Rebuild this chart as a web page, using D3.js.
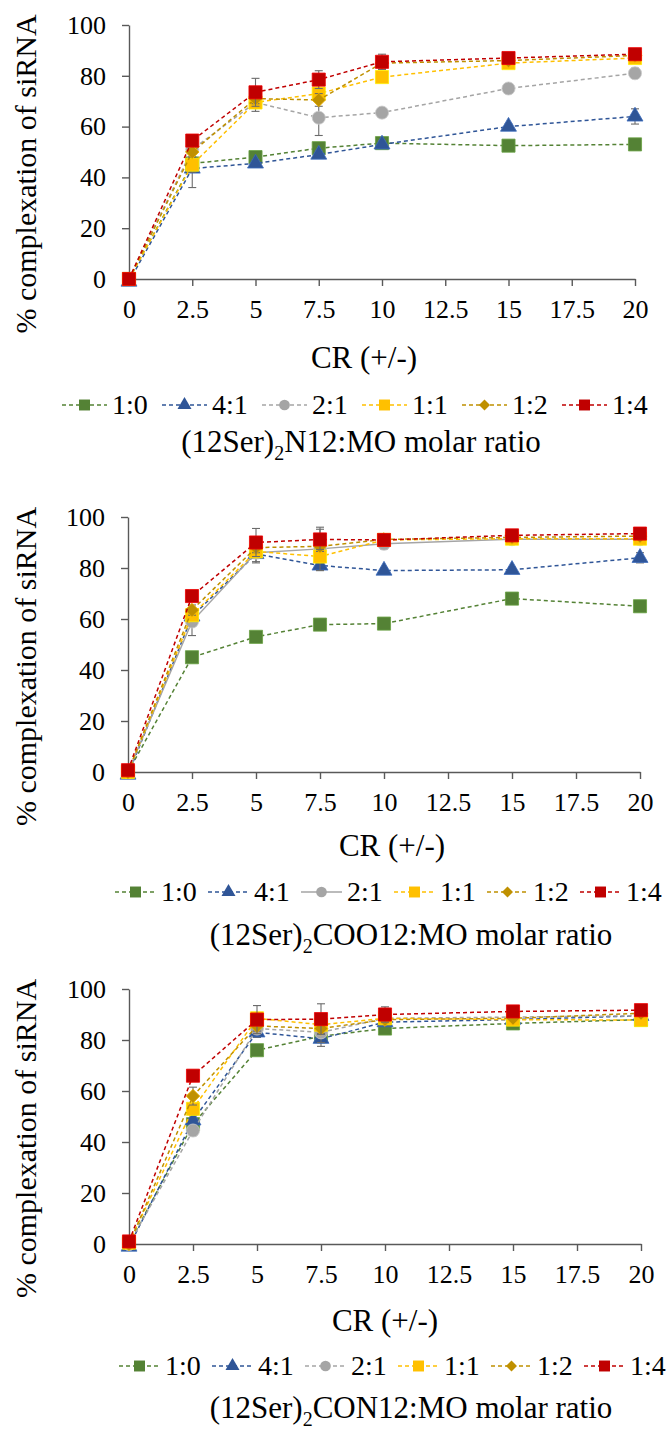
<!DOCTYPE html>
<html>
<head>
<meta charset="utf-8">
<script src="https://cdn.jsdelivr.net/npm/d3@7"></script>
<style>
  body { margin: 0; background: #fff; }
  svg { display: block; }
</style>
</head>
<body>
<svg id="canvas" width="668" height="1429"></svg>
<script>
/************* Data **************/
var crValues = [0, 2.5, 5, 7.5, 10, 15, 20];
var xTickValues = [0, 2.5, 5, 7.5, 10, 12.5, 15, 17.5, 20];
var yTickValues = [0, 20, 40, 60, 80, 100];
var ratioNames = ["1:0", "4:1", "2:1", "1:1", "1:2", "1:4"];
var ratioColors = ["#548235", "#2F5597", "#A5A5A5", "#FFC000", "#BF9000", "#C00000"];
var ratioShapes = ["square", "triangle", "circle", "square", "diamond", "square"];

// (12Ser)2N12 : one row per molar ratio, same order as ratioNames
var n12Mean = [
  [0, 45.5, 48, 51.5, 53.5, 52.5, 53],
  [-1, 43.5, 45.5, 49, 53, 60, 64],
  [0, 51, 69.5, 63.5, 65.5, 75, 81],
  [0, 45, 69.5, 73, 79.5, 85, 87],
  [0, 50, 71, 70.5, 85, 86, 88],
  [0, 54.5, 73.5, 78.5, 85.5, 87, 88.5]
];
var n12Err = [
  [0, 1.5, 1, 1, 1, 1, 1],
  [0, 7.5, 1.5, 1.5, 1.5, 1, 3],
  [0, 2, 3.5, 7, 1.5, 1.5, 2],
  [0, 3, 2, 2, 2, 1, 1],
  [0, 2, 2, 2.5, 2, 1, 1],
  [0, 2, 5.5, 3.5, 3, 1, 1]
];

// (12Ser)2COO12
var coo12Mean = [
  [0, 45, 53, 57.8, 58.2, 68, 65],
  [-1, 61, 85.5, 81, 79, 79.3, 84],
  [0, 59, 86, 87.5, 89.5, 91.3, 91.3],
  [0, 61.5, 86.5, 84.5, 91, 91.5, 91.5],
  [0, 63.5, 88, 88.5, 91.2, 92, 92.5],
  [0.7, 69, 90, 91.2, 91, 92.8, 93.5]
];
var coo12Err = [
  [0, 1, 1, 1, 1, 1, 1],
  [0, 2, 3, 2, 1, 1, 2],
  [0, 5.5, 4, 8.5, 2, 1, 2],
  [0, 2, 2, 2, 2, 1, 1],
  [0, 2, 2, 2, 2, 1, 1],
  [0, 2, 5.5, 4, 2, 1, 1]
];

// (12Ser)2CON12
var con12Mean = [
  [0, 47, 76, 81.5, 84.5, 86.5, 88],
  [-1, 48.5, 83, 80.5, 87, 88, 89.5],
  [0, 44.5, 84.5, 83, 88.5, 89, 89.5],
  [0.5, 53, 88.5, 86, 88.5, 88, 87.8],
  [0, 58, 85.5, 84.5, 88, 88.5, 90.5],
  [1, 66, 88, 88.2, 90, 91.2, 91.7]
];
var con12Err = [
  [0, 1, 1, 1, 1, 1, 1],
  [0, 2, 2, 3, 1, 1, 1],
  [0, 2, 2, 4, 1, 1, 1],
  [0, 2, 2, 2, 1, 1, 1],
  [0, 3.5, 2, 2, 1, 1, 1],
  [0, 2, 5.5, 6, 3, 1, 1]
];

/*********** Layout **************/
var panels = [
  { mean: n12Mean, err: n12Err, head: "N12", solid: [],
    top: 25, bottom: 279, left: 129, right: 635,
    crX: 364, crY: 357, legX: 62, legStep: 100, symW: 45, legY: 405, capX: 361, capY: 442 },
  { mean: coo12Mean, err: coo12Err, head: "COO12", solid: [2],
    top: 517, bottom: 772, left: 128, right: 640,
    crX: 392, crY: 845, legX: 115, legStep: 93, symW: 41, legY: 892, capX: 411, capY: 935 },
  { mean: con12Mean, err: con12Err, head: "CON12", solid: [],
    top: 989, bottom: 1244, left: 129, right: 641,
    crX: 385, crY: 1320, legX: 119, legStep: 93, symW: 41, legY: 1366, capX: 411, capY: 1408 }
];

var svg = d3.select("#canvas");
var axisColor = "#595959";
var serif = "'Liberation Serif', 'Times New Roman', Times, serif";

function symbolPath(shape, size) {
  var type = { square: d3.symbolSquare, triangle: d3.symbolTriangle,
               circle: d3.symbolCircle, diamond: d3.symbolSquare }[shape];
  return d3.symbol().type(type).size(size)();
}
var markerSize = { square: 172, triangle: 110, circle: 135, diamond: 92 };
var legendSize = { square: 120, triangle: 85, circle: 90, diamond: 60 };

function markerTransform(shape, px, py) {
  var t = "translate(" + px + "," + py + ")";
  if (shape === "diamond") t += " rotate(45)";
  return t;
}

function drawPanel(p) {
  var g = svg.append("g");

  var x = d3.scaleLinear().domain([0, 20]).range([p.left, p.right]);
  var y = d3.scaleLinear().domain([0, 100]).range([p.bottom, p.top]);

  // axes
  var xAxis = g.append("g")
      .attr("transform", "translate(0," + p.bottom + ")")
      .call(d3.axisBottom(x).tickValues(xTickValues).tickFormat(d3.format("")).tickSize(7).tickSizeOuter(0).tickPadding(14));
  var yAxis = g.append("g")
      .attr("transform", "translate(" + p.left + ",0)")
      .call(d3.axisLeft(y).tickValues(yTickValues).tickSize(7).tickSizeOuter(0).tickPadding(16));
  [xAxis, yAxis].forEach(function(a) {
    a.attr("font-family", null).attr("font-size", null);
    a.selectAll("path, line").attr("stroke", axisColor).attr("stroke-width", 1.4);
    a.selectAll("text").style("font-family", serif).style("font-size", "26px").attr("fill", "#000");
  });

  // series
  p.mean.forEach(function(values, i) {
    var pts = values.map(function(v, j) { return { cr: crValues[j], v: v, e: p.err[i][j] }; });
    var color = ratioColors[i];
    var line = d3.line().x(function(d) { return x(d.cr); }).y(function(d) { return y(d.v); });

    g.append("path")
        .datum(pts)
        .attr("d", line)
        .attr("fill", "none")
        .attr("stroke", color)
        .attr("stroke-width", 1.5)
        .attr("stroke-dasharray", p.solid.indexOf(i) >= 0 ? null : "4,3");

    var eb = g.append("g").selectAll("g")
        .data(pts.filter(function(d) { return d.e > 0; }))
        .enter().append("g")
        .attr("stroke", "#6b6b6b")
        .attr("stroke-width", 1.1);
    eb.append("line")
        .attr("x1", function(d) { return x(d.cr); }).attr("x2", function(d) { return x(d.cr); })
        .attr("y1", function(d) { return y(d.v + d.e); }).attr("y2", function(d) { return y(d.v - d.e); });
    eb.append("line")
        .attr("x1", function(d) { return x(d.cr) - 4; }).attr("x2", function(d) { return x(d.cr) + 4; })
        .attr("y1", function(d) { return y(d.v + d.e); }).attr("y2", function(d) { return y(d.v + d.e); });
    eb.append("line")
        .attr("x1", function(d) { return x(d.cr) - 4; }).attr("x2", function(d) { return x(d.cr) + 4; })
        .attr("y1", function(d) { return y(d.v - d.e); }).attr("y2", function(d) { return y(d.v - d.e); });

    g.append("g").selectAll("path")
        .data(pts)
        .enter().append("path")
        .attr("d", symbolPath(ratioShapes[i], markerSize[ratioShapes[i]]))
        .attr("transform", function(d) { return markerTransform(ratioShapes[i], x(d.cr), y(d.v)); })
        .attr("fill", color)
        .attr("stroke", d3.color(color).brighter(0.6))
        .attr("stroke-width", 0.8);
  });

  // axis titles
  g.append("text")
      .attr("transform", "translate(36," + ((p.top + p.bottom) / 2 + 22) + ") rotate(-90)")
      .attr("text-anchor", "middle")
      .style("font-family", serif).style("font-size", "30px")
      .text("% complexation of siRNA");

  g.append("text")
      .attr("x", p.crX).attr("y", p.crY + 11)
      .attr("text-anchor", "middle")
      .style("font-family", serif).style("font-size", "31px")
      .text("CR (+/-)");

  // legend
  var leg = g.append("g").selectAll("g")
      .data(ratioNames)
      .enter().append("g")
      .attr("transform", function(d, i) { return "translate(" + (p.legX + i * p.legStep) + "," + p.legY + ")"; });
  leg.append("line")
      .attr("x1", 0).attr("x2", p.symW)
      .attr("stroke", function(d, i) { return ratioColors[i]; })
      .attr("stroke-width", 1.5)
      .attr("stroke-dasharray", function(d, i) { return p.solid.indexOf(i) >= 0 ? null : "4,3"; });
  leg.append("path")
      .attr("d", function(d, i) { return symbolPath(ratioShapes[i], legendSize[ratioShapes[i]]); })
      .attr("transform", function(d, i) { return markerTransform(ratioShapes[i], p.symW / 2, 0); })
      .attr("fill", function(d, i) { return ratioColors[i]; });
  leg.append("text")
      .attr("x", p.symW + 5).attr("y", 9)
      .style("font-family", serif).style("font-size", "28px")
      .text(function(d) { return d; });

  // caption
  var cap = g.append("text")
      .attr("x", p.capX).attr("y", p.capY + 10)
      .attr("text-anchor", "middle")
      .style("font-family", serif).style("font-size", "31px");
  cap.append("tspan").text("(12Ser)");
  cap.append("tspan").style("font-size", "20px").attr("dy", 8).text("2");
  cap.append("tspan").attr("dy", -8).text(p.head + ":MO molar ratio");
}

panels.forEach(drawPanel);
</script>
</body>
</html>
